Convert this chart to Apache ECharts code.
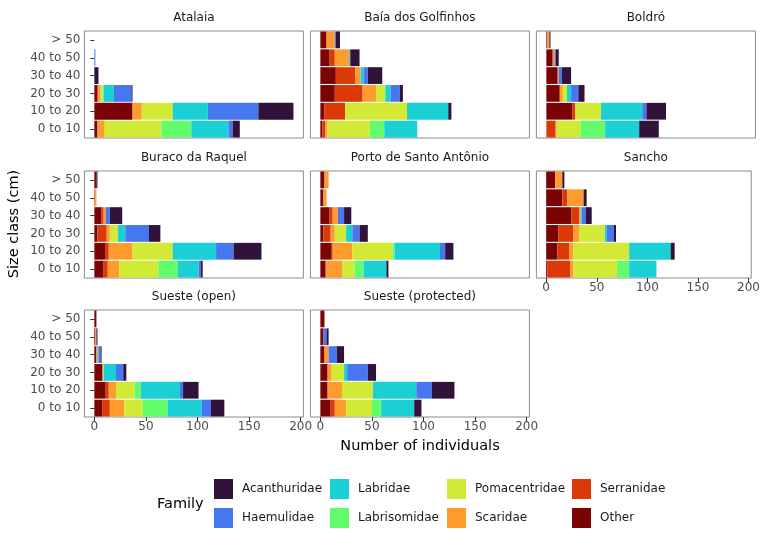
<!DOCTYPE html>
<html>
<head>
<meta charset="utf-8">
<script src="https://cdn.jsdelivr.net/npm/echarts@6/dist/echarts.min.js"></script>
<style>html,body{margin:0;padding:0;background:#fff}#chart{width:763px;height:545px}</style>
</head>
<body>
<div id="chart"></div>
<script>
// ---- data ----
const sizeClasses = ['0 to 10', '10 to 20', '20 to 30', '30 to 40', '40 to 50', '> 50'];
const families = ['Acanthuridae', 'Haemulidae', 'Labridae', 'Labrisomidae', 'Pomacentridae', 'Scaridae', 'Serranidae', 'Other'];
const sites = ['Atalaia', 'Baía dos Golfinhos', 'Boldró', 'Buraco da Raquel', 'Porto de Santo Antônio', 'Sancho', 'Sueste (open)', 'Sueste (protected)'];
const xTicks = [0, 50, 100, 150, 200];

// rows follow `families`, columns follow `sizeClasses`
const atalaia = [
  [7, 34, 1, 4, 0, 0],
  [4, 49, 17, 0, 1, 0],
  [36, 34, 10, 0, 0, 0],
  [29, 0, 1, 0, 0, 0],
  [55, 30, 2, 0, 0, 0],
  [7, 9, 2, 0, 0, 0],
  [0, 0, 1, 0, 0, 0],
  [3, 37, 3, 0, 0, 0]
];
const baiaDosGolfinhos = [
  [0, 3, 3, 14, 9, 4],
  [0, 0, 9, 4, 0, 1],
  [32, 40, 5, 3, 1, 0],
  [14, 0, 0, 0, 0, 0],
  [41, 60, 9, 0, 0, 0],
  [2, 0, 13, 5, 14, 8],
  [3, 20, 27, 19, 5, 0],
  [2, 4, 14, 15, 9, 6]
];
const boldro = [
  [19, 19, 6, 9, 3, 1],
  [0, 4, 7, 3, 1, 0],
  [33, 40, 4, 0, 0, 0],
  [24, 0, 0, 0, 0, 0],
  [23, 25, 4, 0, 0, 0],
  [1, 0, 3, 1, 1, 2],
  [9, 3, 0, 0, 1, 0],
  [0, 25, 13, 11, 6, 1]
];
const buracoDaRaquel = [
  [2, 27, 11, 12, 0, 1],
  [2, 17, 23, 4, 0, 0],
  [20, 42, 7, 0, 0, 0],
  [19, 0, 0, 0, 0, 0],
  [38, 39, 8, 0, 0, 0],
  [11, 23, 3, 2, 1, 0],
  [4, 3, 9, 2, 1, 0],
  [9, 11, 3, 7, 0, 2]
];
const portoDeSantoAntonio = [
  [2, 8, 8, 7, 0, 0],
  [0, 5, 7, 6, 0, 0],
  [22, 44, 6, 0, 0, 0],
  [9, 2, 0, 0, 0, 0],
  [12, 39, 11, 0, 0, 0],
  [15, 19, 4, 5, 3, 4],
  [1, 1, 7, 3, 0, 0],
  [5, 11, 3, 9, 3, 4]
];
const sancho = [
  [0, 4, 2, 6, 3, 2],
  [0, 0, 7, 4, 0, 0],
  [27, 41, 2, 1, 0, 0],
  [12, 0, 0, 0, 0, 0],
  [43, 55, 25, 0, 0, 0],
  [3, 4, 6, 1, 16, 7],
  [23, 12, 15, 8, 5, 0],
  [1, 11, 12, 25, 16, 9]
];
const suesteOpen = [
  [13, 15, 3, 1, 1, 0],
  [9, 3, 7, 2, 0, 0],
  [33, 38, 12, 1, 0, 0],
  [24, 6, 0, 0, 0, 0],
  [18, 18, 1, 0, 0, 0],
  [14, 7, 0, 1, 1, 0],
  [7, 3, 0, 0, 0, 0],
  [8, 11, 8, 2, 1, 2]
];
const suesteProtected = [
  [7, 22, 8, 7, 2, 0],
  [0, 15, 20, 8, 3, 0],
  [32, 42, 3, 0, 0, 0],
  [9, 0, 0, 0, 0, 0],
  [25, 30, 12, 0, 0, 0],
  [11, 14, 4, 4, 0, 0],
  [4, 0, 0, 0, 0, 0],
  [10, 7, 7, 4, 3, 4]
];
const siteData = [atalaia, baiaDosGolfinhos, boldro, buracoDaRaquel, portoDeSantoAntonio, sancho, suesteOpen, suesteProtected];

// ---- styling / layout ----
const familyColors = {
  Acanthuridae: '#30123B', Haemulidae: '#4777EF', Labridae: '#1BD0D5', Labrisomidae: '#62FC6B',
  Pomacentridae: '#D2E935', Scaridae: '#FE9B2D', Serranidae: '#DB3A07', Other: '#7A0403'
};
const font = 'DejaVu Sans';
const colLeft = [84.4, 310.4, 536.4];
const rowTop = [31, 171, 310];
const panelW = 219, panelH = 107;

// axis limits with 5% expansion like ggplot
let maxTotal = 0;
siteData.forEach(d => sizeClasses.forEach((_, j) => {
  const s = d.reduce((a, r) => a + r[j], 0);
  if (s > maxTotal) maxTotal = s;
}));
const xMin = -0.05 * maxTotal, xMax = maxTotal * 1.05;

const grids = [], xAxes = [], yAxes = [], series = [], graphics = [];
sites.forEach((site, i) => {
  const col = i % 3, row = Math.floor(i / 3);
  const isLeft = col === 0;
  const isBottom = (row === 2) || (row === 1 && col === 2);
  grids.push({
    left: colLeft[col], top: rowTop[row], width: panelW, height: panelH,
    show: true, borderColor: '#8c8c8c', borderWidth: 1, backgroundColor: 'transparent'
  });
  xAxes.push({
    type: 'value', gridIndex: i, min: xMin, max: xMax,
    splitLine: { show: false }, axisLine: { show: false },
    axisTick: { show: isBottom, customValues: xTicks, length: 4, lineStyle: { color: '#333' } },
    axisLabel: { show: isBottom, customValues: xTicks, color: '#4d4d4d', fontSize: 12, fontFamily: font, margin: 4 }
  });
  yAxes.push({
    type: 'category', gridIndex: i, data: sizeClasses,
    axisLine: { show: false }, splitLine: { show: false },
    axisTick: { show: isLeft, alignWithLabel: true, length: 4, lineStyle: { color: '#333' } },
    axisLabel: { show: isLeft, color: '#4d4d4d', fontSize: 12, fontFamily: font, margin: 4 }
  });
  for (let f = families.length - 1; f >= 0; f--) {
    series.push({
      type: 'bar', name: families[f], xAxisIndex: i, yAxisIndex: i, stack: 'site' + i,
      data: siteData[i][f], barCategoryGap: '6%',
      itemStyle: { color: familyColors[families[f]] },
      emphasis: { disabled: true }
    });
  }
  graphics.push({
    type: 'text', x: colLeft[col] + panelW / 2, y: rowTop[row] - 13,
    style: { text: site, textAlign: 'center', textVerticalAlign: 'middle', fill: '#1a1a1a', font: '12px "DejaVu Sans"' }
  });
});

graphics.push({
  type: 'text', x: 14, y: 224, rotation: Math.PI / 2,
  style: { text: 'Size class (cm)', textAlign: 'center', textVerticalAlign: 'middle', fill: '#000', font: '14.5px "DejaVu Sans"' }
});
graphics.push({
  type: 'text', x: 420, y: 446,
  style: { text: 'Number of individuals', textAlign: 'center', textVerticalAlign: 'middle', fill: '#000', font: '14.5px "DejaVu Sans"' }
});
graphics.push({
  type: 'text', x: 157, y: 504,
  style: { text: 'Family', textAlign: 'left', textVerticalAlign: 'middle', fill: '#000', font: '14.5px "DejaVu Sans"' }
});

const legendLefts = [214, 330, 447, 572];
const legends = legendLefts.map((lx, c) => ({
  orient: 'vertical', left: lx, top: 479, padding: 0, itemWidth: 19, itemHeight: 20, itemGap: 9,
  icon: 'rect', selectedMode: false,
  data: [families[2 * c], families[2 * c + 1]],
  textStyle: { fontSize: 12, color: '#1a1a1a', fontFamily: font, padding: [0, 0, 0, 4] }
}));

const chart = echarts.init(document.getElementById('chart'), null, { renderer: 'canvas' });
chart.setOption({
  animation: false,
  textStyle: { fontFamily: font },
  grid: grids, xAxis: xAxes, yAxis: yAxes, series: series,
  legend: legends, graphic: graphics
});
</script>
</body>
</html>
